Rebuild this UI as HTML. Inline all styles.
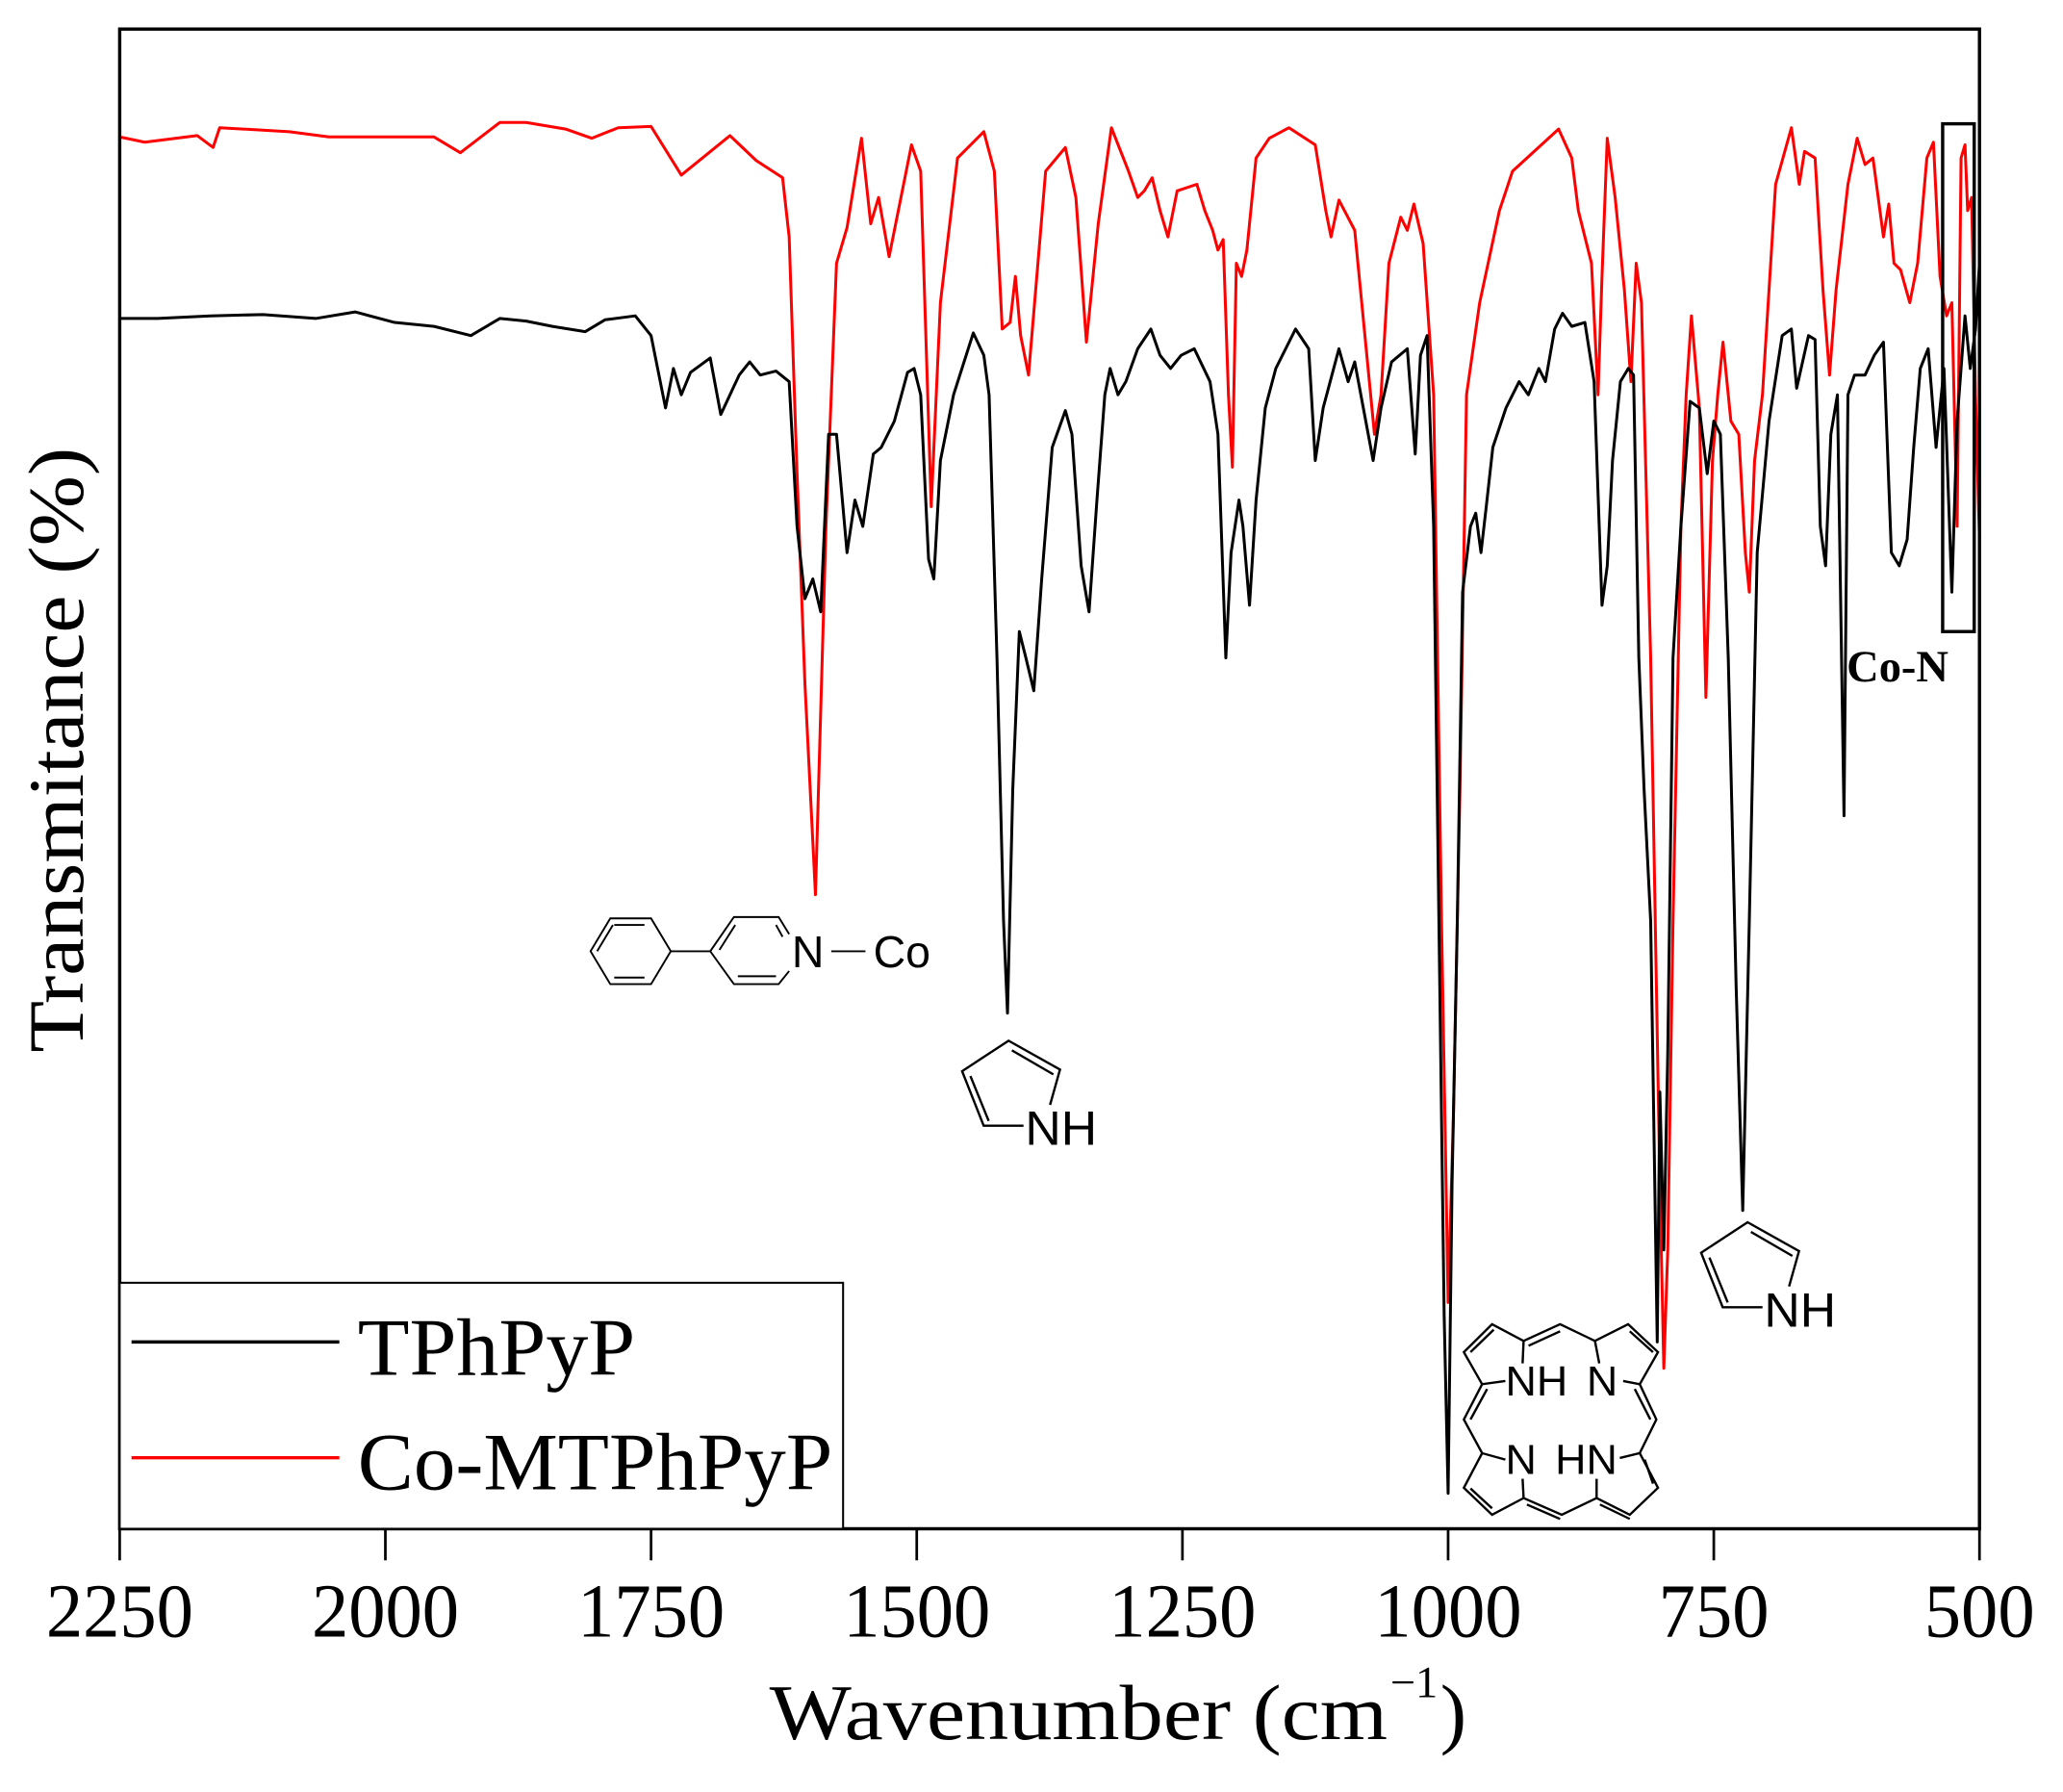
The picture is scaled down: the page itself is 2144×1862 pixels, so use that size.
<!DOCTYPE html>
<html><head><meta charset="utf-8"><style>html,body{margin:0;padding:0;background:#fff}svg{display:block}</style></head>
<body>
<svg width="2144" height="1862" viewBox="0 0 1568.5 1362" xmlns="http://www.w3.org/2000/svg" font-family="Liberation Serif, serif">
<rect width="1568.5" height="1362" fill="#fff"/>
<!-- red -->
<polyline fill="none" stroke="#ff0000" stroke-width="2.2" stroke-linejoin="round" points="91,104 110,108 150,103 162,112 167,97 220,100 250,104 300,104 330,104 350,116 380,93 400,93 430,98 450,105 470,97 495,96 518,133 555,103 575,122 595,135 600,180 606,360 612,520 620,680 628,400 636,200 644,173 655,105 662,170 668,150 676,195 693,110 700,130 708,385 715,230 728,120 748,100 756,130 762,250 768,245 772,210 776,255 782,285 795,130 810,112 818,150 826,260 835,170 845,97 858,130 865,150 870,145 876,135 882,160 888,180 895,145 910,140 916,160 922,175 926,190 930,182 934,300 937,355 940,200 944,210 948,190 955,120 965,105 980,97 1000,110 1008,160 1012,180 1018,152 1030,175 1045,330 1050,300 1056,200 1065,165 1070,175 1075,155 1082,185 1090,300 1096,700 1101,990 1105,850 1110,600 1115,300 1125,230 1140,160 1150,130 1185,98 1195,120 1200,160 1210,200 1215,300 1218,210 1222,105 1228,150 1235,220 1240,290 1244,200 1248,230 1255,500 1262,900 1265,1040 1268,950 1272,700 1278,400 1282,300 1286,240 1292,310 1297,530 1302,350 1306,300 1310,260 1316,320 1322,330 1327,420 1330,450 1334,350 1340,300 1350,140 1362,97 1368,140 1372,115 1380,120 1386,220 1391,285 1396,220 1405,140 1412,105 1418,125 1424,120 1432,180 1436,155 1440,200 1445,205 1452,230 1458,200 1465,120 1470,108 1475,210 1480,240 1484,230 1488,400 1491,120 1494,110 1496,160 1499,150 1502,300 1505,410"/>
<!-- black -->
<polyline fill="none" stroke="#000" stroke-width="2.2" stroke-linejoin="round" points="91,242 120,242 160,240 200,239 240,242 270,237 300,245 330,248 358,255 380,242 400,244 420,248 445,252 460,243 483,240 495,255 500,280 506,310 512,280 518,300 525,283 540,272 548,315 555,300 562,285 570,275 578,285 590,282 600,290 606,400 612,455 618,440 624,465 630,330 636,330 644,420 650,380 656,400 664,345 670,340 680,320 690,283 695,280 700,300 706,425 710,440 715,350 725,300 740,253 748,270 752,300 758,500 763,700 766,770 770,600 775,480 780,500 786,525 792,440 800,340 810,312 815,330 822,430 828,465 834,380 840,300 844,280 850,300 856,290 865,265 875,250 882,270 890,280 898,270 908,265 920,290 926,330 932,500 936,420 942,380 945,400 950,460 955,380 962,310 970,280 985,250 995,265 1000,350 1006,310 1018,265 1025,290 1030,275 1044,350 1050,310 1058,275 1070,265 1076,345 1080,270 1085,255 1090,400 1094,700 1098,1000 1101,1135 1104,900 1108,700 1112,450 1118,400 1122,390 1126,420 1130,385 1135,340 1145,310 1155,290 1162,300 1170,280 1175,290 1182,250 1188,238 1195,248 1205,245 1212,290 1218,460 1222,430 1226,350 1232,290 1238,280 1242,285 1246,500 1250,600 1255,700 1260,1020 1262,830 1265,950 1268,800 1272,500 1278,400 1285,305 1292,310 1298,360 1303,320 1308,330 1314,500 1320,750 1325,920 1330,700 1336,420 1345,320 1355,255 1362,250 1366,295 1375,255 1380,258 1384,400 1388,430 1392,330 1397,300 1402,620 1405,300 1410,285 1418,285 1425,270 1432,260 1438,420 1444,430 1450,410 1455,340 1460,280 1466,265 1472,340 1478,280 1484,450 1488,320 1494,240 1498,280 1502,250 1505,200"/>
<!-- frame -->
<rect x="91" y="22" width="1414" height="1140" fill="none" stroke="#000" stroke-width="2.5"/>
<g stroke="#000" stroke-width="2">
<line x1="91" y1="1162" x2="91" y2="1186"/><line x1="293" y1="1162" x2="293" y2="1186"/><line x1="495" y1="1162" x2="495" y2="1186"/><line x1="697" y1="1162" x2="697" y2="1186"/><line x1="899" y1="1162" x2="899" y2="1186"/><line x1="1101" y1="1162" x2="1101" y2="1186"/><line x1="1303" y1="1162" x2="1303" y2="1186"/><line x1="1505" y1="1162" x2="1505" y2="1186"/>
</g>
<g font-size="58" text-anchor="middle">
<text x="91" y="1244" textLength="112" lengthAdjust="spacingAndGlyphs">2250</text>
<text x="293" y="1244" textLength="112" lengthAdjust="spacingAndGlyphs">2000</text>
<text x="495" y="1244" textLength="112" lengthAdjust="spacingAndGlyphs">1750</text>
<text x="697" y="1244" textLength="112" lengthAdjust="spacingAndGlyphs">1500</text>
<text x="899" y="1244" textLength="112" lengthAdjust="spacingAndGlyphs">1250</text>
<text x="1101" y="1244" textLength="112" lengthAdjust="spacingAndGlyphs">1000</text>
<text x="1303" y="1244" textLength="84" lengthAdjust="spacingAndGlyphs">750</text>
<text x="1505" y="1244" textLength="84" lengthAdjust="spacingAndGlyphs">500</text>
</g>
<text x="585" y="1322" font-size="60" textLength="470" lengthAdjust="spacingAndGlyphs">Wavenumber (cm</text>
<text x="1057" y="1290" font-size="34">−1</text>
<text x="1095" y="1322" font-size="60">)</text>
<text transform="translate(63,570) rotate(-90)" font-size="60" text-anchor="middle" textLength="460" lengthAdjust="spacingAndGlyphs">Transmitance (%)</text>
<!-- legend -->
<rect x="91" y="975" width="550" height="187" fill="#fff" stroke="#000" stroke-width="1.5"/>
<line x1="100" y1="1020" x2="258" y2="1020" stroke="#000" stroke-width="2.5"/>
<line x1="100" y1="1108" x2="258" y2="1108" stroke="#ff0000" stroke-width="2.5"/>
<text x="272" y="1045" font-size="62" textLength="211" lengthAdjust="spacingAndGlyphs">TPhPyP</text>
<text x="272" y="1132" font-size="62" textLength="361" lengthAdjust="spacingAndGlyphs">Co-MTPhPyP</text>
<!-- Co-N box -->
<rect x="1477" y="94" width="24" height="386" fill="none" stroke="#000" stroke-width="2.5"/>
<text x="1404" y="518" font-size="34" font-weight="bold">Co-N</text>
<!-- phenylpyridine -->
<g fill="none" stroke="#000" stroke-width="1.4">
<polygon points="449,723 464,698 495,698 510,723 495,748 464,748"/>
<line x1="510" y1="723" x2="540" y2="723"/>
<polyline points="600,710 592,697 558,697 540,723 558,748 592,748 600,738"/>
<line x1="559" y1="703" x2="547" y2="722"/><line x1="561" y1="742" x2="590" y2="742"/><line x1="590" y1="703" x2="595" y2="712"/>
<line x1="632" y1="723" x2="658" y2="723"/>
<line x1="467" y1="703" x2="490" y2="703"/><line x1="467" y1="743" x2="490" y2="743"/><line x1="454" y1="723" x2="466" y2="703"/>
</g>
<g font-family="Liberation Sans, sans-serif" font-size="34">
<text x="602" y="735">N</text><text x="664" y="735">Co</text>
</g>
<!-- porphyrin & pyrroles (zoom coordinates) -->
<g transform="translate(1082.7,929) scale(0.2523,0.2438)" fill="none" stroke="#000" stroke-width="7">
<polyline points="245,495 175,505 120,405 205,318 300,370 297,440"/>
<polyline points="300,370 410,318 515,370 615,318 705,405 650,505 600,495"/>
<line x1="140" y1="405" x2="210" y2="335"/><line x1="315" y1="385" x2="410" y2="340"/><line x1="620" y1="340" x2="690" y2="405"/>
<line x1="515" y1="370" x2="528" y2="440"/>
<polyline points="175,505 120,615 175,720 245,740"/>
<polyline points="650,505 700,615 650,720 590,735"/>
<line x1="190" y1="520" x2="140" y2="615"/><line x1="635" y1="520" x2="682" y2="615"/>
<polyline points="175,720 120,828 205,912 300,860 297,800"/>
<polyline points="300,860 415,912 520,860 620,912 705,828 650,720"/>
<line x1="140" y1="830" x2="205" y2="892"/><line x1="310" y1="880" x2="410" y2="925"/><line x1="530" y1="880" x2="620" y2="925"/><line x1="665" y1="740" x2="690" y2="815"/>
<line x1="520" y1="860" x2="520" y2="800"/>
<g fill="#000" stroke="none" font-family="Liberation Sans, sans-serif" font-size="130">
<text x="245" y="540">NH</text><text x="490" y="540">N</text>
<text x="245" y="785">N</text><text x="395" y="785">HN</text>
</g>
<polyline points="1020,265 900,265 835,95 975,0 1130,90 1100,200"/>
<line x1="860" y1="110" x2="915" y2="250"/><line x1="985" y1="30" x2="1110" y2="105"/>
<text x="1025" y="325" fill="#000" stroke="none" font-family="Liberation Sans, sans-serif" font-size="150">NH</text>
<g transform="translate(-2227,-566)">
<polyline points="1020,265 900,265 835,95 975,0 1130,90 1100,200"/>
<line x1="860" y1="110" x2="915" y2="250"/><line x1="985" y1="30" x2="1110" y2="105"/>
<text x="1025" y="325" fill="#000" stroke="none" font-family="Liberation Sans, sans-serif" font-size="150">NH</text>
</g>
</g>
</svg>
</body></html>
